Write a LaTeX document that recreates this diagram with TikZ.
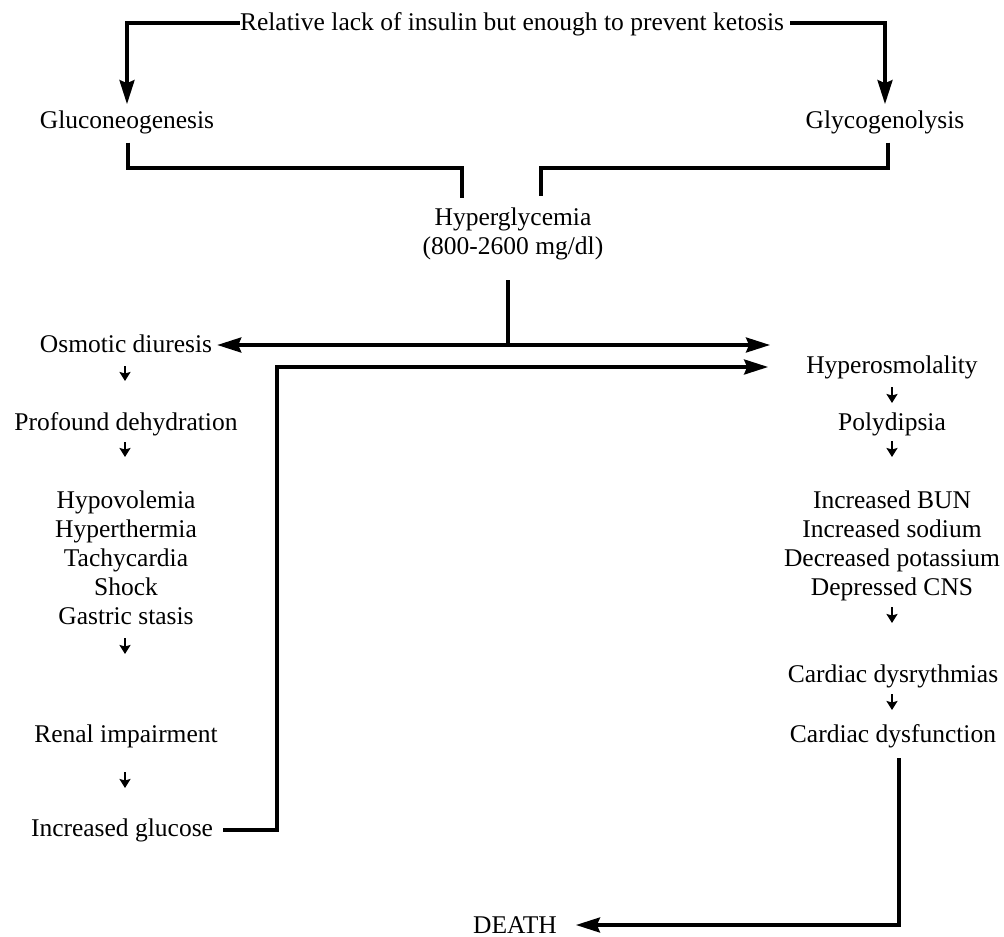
\documentclass[tikz,border=0pt]{standalone}
\usepackage{fontspec}
\setmainfont{Liberation Serif}
\usetikzlibrary{arrows.meta}
\begin{document}
\begin{tikzpicture}[x=1pt,y=-1pt,
  lbl/.style={anchor=base,inner sep=0pt,font=\fontsize{25.5}{29}\selectfont},
  conn/.style={line width=3.2pt,line cap=butt},
  bigarrow/.style={conn,-{Stealth[length=24pt,width=15pt,inset=3pt]}},
  twoway/.style={conn,{Stealth[length=24pt,width=15pt,inset=3pt]}-{Stealth[length=24pt,width=15pt,inset=3pt]}},
  sarr/.style={line width=2.5pt,-{Stealth[length=9pt,width=11pt,inset=1.5pt]}}]
\useasboundingbox (0,0) rectangle (1004,937);

% top cause and the two pathways
\node[lbl] (top) at (512,30) {Relative lack of insulin but enough to prevent ketosis};
\node[lbl] (glu) at (127,128) {Gluconeogenesis};
\node[lbl] (gly) at (885,128) {Glycogenolysis};

% hyperglycemia
\node[lbl] (hyp) at (513,225) {Hyperglycemia};
\node[lbl] (rng) at (513,254) {(800-2600 mg/dl)};

% left column
\node[lbl] (osm) at (126,352) {Osmotic diuresis};
\node[lbl] (prof) at (126,430) {Profound dehydration};
\node[lbl] (hvo) at (126,508) {Hypovolemia};
\node[lbl] (hth) at (126,537) {Hyperthermia};
\node[lbl] (tac) at (126,566) {Tachycardia};
\node[lbl] (sho) at (126,595) {Shock};
\node[lbl] (gas) at (126,624) {Gastric stasis};
\node[lbl] (ren) at (126,742) {Renal impairment};
\node[lbl] (incg) at (122,836) {Increased glucose};

% right column
\node[lbl] (hyo) at (892,373) {Hyperosmolality};
\node[lbl] (pol) at (892,430) {Polydipsia};
\node[lbl] (bun) at (892,508) {Increased BUN};
\node[lbl] (sod) at (892,537) {Increased sodium};
\node[lbl] (pot) at (892,566) {Decreased potassium};
\node[lbl] (cns) at (892,595) {Depressed CNS};
\node[lbl] (cdr) at (893,682) {Cardiac dysrythmias};
\node[lbl] (cdf) at (893,742) {Cardiac dysfunction};

\node[lbl] (death) at (515,933) {DEATH};

% junction points
\coordinate (jl) at (462,198);
\coordinate (jr) at (541,196);
\coordinate (hv) at (508,280);
\coordinate (hj) at (508,345);
\coordinate (rt) at (770,345);
\coordinate (loop) at (277,367);

% top branches
\draw[bigarrow] ([yshift=7pt]top.base west) -| ([yshift=6pt]glu.north);
\draw[bigarrow] ([xshift=6pt,yshift=7pt]top.base east) -| ([yshift=6pt]gly.north);

% brackets joining at hyperglycemia
\draw[conn] ([xshift=1pt,yshift=-9pt]glu.south) |- ([yshift=30pt]jl) -- (jl);
\draw[conn] ([xshift=3pt,yshift=-9pt]gly.south) |- ([yshift=28pt]jr) -- (jr);

% split into the two consequences
\draw[conn] (hv) -- (hj);
\draw[twoway] ([xshift=5pt,yshift=7pt]osm.base east) -- (rt);

% feedback of glucose
\draw[bigarrow] ([xshift=10pt,yshift=6pt]incg.base east) -| (loop) -- ([xshift=-38pt,yshift=6pt]hyo.base west);

% to death
\draw[bigarrow] ([xshift=6pt,yshift=-16pt]cdf.base) |- ([xshift=19pt,yshift=8pt]death.base east);

% small arrows, left column
\draw[sarr] ([xshift=-1pt,yshift=-14pt]osm.base) -- ++(0,15);
\draw[sarr] ([xshift=-1pt,yshift=-12pt]prof.base) -- ++(0,15);
\draw[sarr] ([xshift=-1pt,yshift=-14pt]gas.base) -- ++(0,16);
\draw[sarr] ([xshift=-1pt,yshift=-30pt]ren.base) -- ++(0,16);

% small arrows, right column
\draw[sarr] ([yshift=-14pt]hyo.base) -- ++(0,16);
\draw[sarr] ([yshift=-11pt]pol.base) -- ++(0,16);
\draw[sarr] ([yshift=-12pt]cns.base) -- ++(0,16);
\draw[sarr] ([xshift=-1pt,yshift=-12pt]cdr.base) -- ++(0,16);
\end{tikzpicture}
\end{document}
